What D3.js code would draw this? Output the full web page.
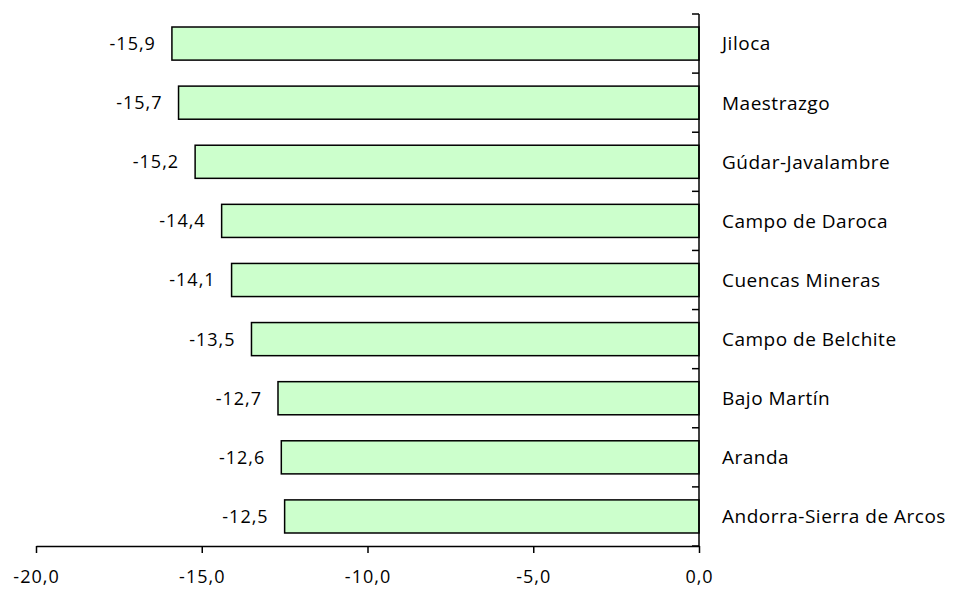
<!DOCTYPE html>
<html><head><meta charset="utf-8">
<script src="https://cdn.jsdelivr.net/npm/d3@7"></script>
<style>body{margin:0;background:#fff}svg text{font-family:"Open Sans",Lato,sans-serif;fill:#000}</style>
</head><body><svg id="c" width="957" height="589"></svg>
<script>
const categories = ["Jiloca","Maestrazgo","Gúdar-Javalambre","Campo de Daroca","Cuencas Mineras","Campo de Belchite","Bajo Martín","Aranda","Andorra-Sierra de Arcos"];
const values = [-15.9,-15.7,-15.2,-14.4,-14.1,-13.5,-12.7,-12.6,-12.5];
const xTicks = [-20,-15,-10,-5,0];

const svg = d3.select("#c");
const fmt = v => d3.format(".1f")(v).replace(".", ",").replace("−","-");
const x = d3.scaleLinear().domain([-20,0]).range([36,699]);
const y = d3.scaleBand().domain(categories).range([14,546]).paddingInner(0.44).paddingOuter(0.22);

svg.selectAll("rect.bar").data(values).join("rect")
  .attr("x", d => x(d)).attr("y", (d,i) => y(categories[i]))
  .attr("width", d => x(0) - x(d)).attr("height", y.bandwidth())
  .attr("fill", "#CCFFCC").attr("stroke", "#000").attr("stroke-width", 1.5);

svg.selectAll("text.val").data(values).join("text")
  .attr("x", d => x(d) - 16).attr("y", (d,i) => y(categories[i]) + y.bandwidth()/2)
  .attr("dy", "0.36em").attr("text-anchor", "end").attr("font-size", 18)
  .attr("letter-spacing", 1).text(fmt);

svg.selectAll("text.cat").data(categories).join("text")
  .attr("x", 722).attr("y", d => y(d) + y.bandwidth()/2)
  .attr("dy", "0.36em").attr("font-size", 19).attr("letter-spacing", 0.5).text(d => d);

// x axis
const xa = svg.append("g").attr("transform", "translate(0,546)")
  .call(d3.axisBottom(x).tickValues(xTicks).tickSize(7).tickSizeOuter(0).tickPadding(17).tickFormat(fmt));
xa.select(".domain").attr("stroke", "#000").attr("stroke-width", 1.5);
xa.selectAll(".tick line").attr("stroke", "#000").attr("stroke-width", 1.5);
xa.selectAll("text").attr("font-size", 18).attr("letter-spacing", 1).style("font-family", "'Open Sans'");

// y axis with ticks at category boundaries
const bounds = d3.range(categories.length + 1).map(i => 14 + i * (532 / categories.length));
svg.append("line").attr("x1", x(0)).attr("x2", x(0)).attr("y1", 14).attr("y2", 546)
  .attr("stroke", "#000").attr("stroke-width", 1.5);
svg.selectAll("line.yt").data(bounds).join("line")
  .attr("x1", x(0) - 7).attr("x2", x(0)).attr("y1", d => d).attr("y2", d => d)
  .attr("stroke", "#000").attr("stroke-width", 1.5);
</script></body></html>
